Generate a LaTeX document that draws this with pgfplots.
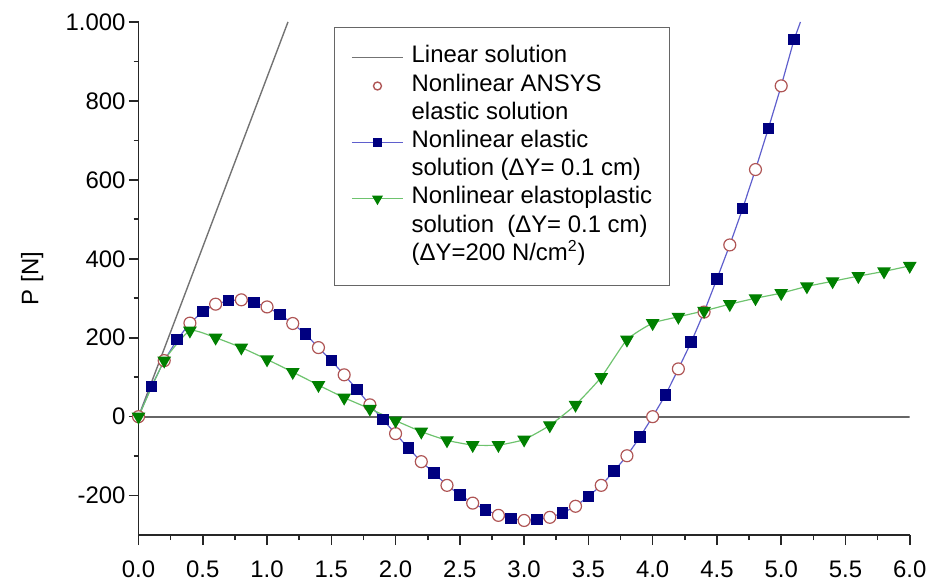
\documentclass[border=0pt]{standalone}
\usepackage{fontspec}
\setmainfont{Liberation Sans}
\usepackage{pgfplots}
\pgfplotsset{compat=1.18}

\definecolor{navy}{RGB}{0,0,128}
\definecolor{bline}{RGB}{95,95,205}
\definecolor{gmark}{RGB}{0,128,0}
\definecolor{gline}{RGB}{110,195,110}
\definecolor{cedge}{RGB}{175,85,85}
\definecolor{lingray}{RGB}{115,115,115}

% Nonlinear elastic solution, step 0.1
\pgfplotstableread{
x y
0.0 0
0.1 76
0.2 142
0.3 195
0.4 237
0.5 266
0.6 285
0.7 294
0.8 296
0.9 289
1.0 278
1.1 259
1.2 236
1.3 209
1.4 175
1.5 142
1.6 106
1.7 69
1.8 30
1.9 -7
2.0 -43
2.1 -80
2.2 -114
2.3 -143
2.4 -174
2.5 -198
2.6 -219
2.7 -236
2.8 -250
2.9 -258
3.0 -263
3.1 -261
3.2 -255
3.3 -244
3.4 -227
3.5 -202
3.6 -174
3.7 -138
3.8 -99
3.9 -52
4.0 0
4.1 55
4.2 121
4.3 189
4.4 265
4.5 349
4.6 435
4.7 527
4.8 626
4.9 730
5.0 838
5.1 955
5.15 1000
}\elastic

% ANSYS points, step 0.2
\pgfplotstableread{
x y
0.0 0
0.2 142
0.4 237
0.6 285
0.8 296
1.0 278
1.2 236
1.4 175
1.6 106
1.8 30
2.0 -43
2.2 -114
2.4 -174
2.6 -219
2.8 -250
3.0 -263
3.2 -255
3.4 -227
3.6 -174
3.8 -99
4.0 0
4.2 121
4.4 265
4.6 435
4.8 626
5.0 838
}\ansys

% elastoplastic solution
\pgfplotstableread{
x y
0.0 0
0.2 142
0.4 218
0.6 200
0.8 175
1.0 145
1.2 113
1.4 80
1.6 48
1.8 20
2.0 -10
2.2 -38
2.4 -60
2.6 -72
2.8 -72
3.0 -58
3.2 -22
3.4 30
3.6 100
3.8 195
4.0 237
4.2 253
4.4 268
4.6 285
4.8 300
5.0 313
5.2 330
5.4 343
5.6 356
5.8 368
6.0 382
}\plastic

\begin{document}
\begin{tikzpicture}
\begin{axis}[
    scale only axis,
    width=387pt, height=257.5pt,
    xmin=0, xmax=6, ymin=-300, ymax=1000,
    axis lines*=left,
    axis line style={line width=1pt, black!85},
    tick align=outside,
    major tick length=5pt, minor tick length=2.5pt,
    every tick/.style={line width=0.8pt, black!85},
    xtick={0,0.5,1,1.5,2,2.5,3,3.5,4,4.5,5,5.5,6},
    minor x tick num=1,
    ytick={-200,0,200,400,600,800,1000},
    minor y tick num=1,
    tick label style={font=\fontsize{12}{14}\selectfont},
    /pgf/number format/assume math mode=true,
    xticklabel style={yshift=-4.5pt, /pgf/number format/.cd, fixed, fixed zerofill, precision=1},
    yticklabel style={xshift=2pt, /pgf/number format/.cd, fixed, 1000 sep={.}},
    ylabel={P [N]},
    ylabel style={at={(axis description cs:-0.138,0.5)}, anchor=center,
        font=\fontsize{12}{14}\selectfont},
    legend image code/.code={\draw[mark repeat=2,mark phase=2,#1]
        plot coordinates {(0cm,0cm) (0.45cm,0cm) (0.9cm,0cm)};},
    legend style={at={(axis description cs:0.253,0.99)}, anchor=north west,
        draw=black!60, line width=0.7pt, inner xsep=8.5pt, inner ysep=8pt,
        font=\fontsize{12}{14}\selectfont, row sep=0pt,
        nodes={inner xsep=0pt, inner ysep=0pt, text height=9.6pt, text depth=4.55pt},
        /tikz/every odd column/.style={column sep=4pt}},
    legend cell align=left,
]

% legend
\addlegendimage{lingray, line width=0.7pt}
\addlegendentry{Linear solution}
\addlegendimage{only marks, mark=o, mark size=2pt, mark options={draw=cedge, fill=white}}
\addlegendentry{Nonlinear ANSYS}
\addlegendimage{empty legend}
\addlegendentry{elastic solution}
\addlegendimage{bline, line width=0.6pt, mark=square*, mark size=2pt, mark options={draw=navy, fill=navy}}
\addlegendentry{Nonlinear elastic}
\addlegendimage{empty legend}
\addlegendentry{solution (ΔY= 0.1 cm)}
\addlegendimage{gline, line width=0.6pt, mark=triangle*, mark size=2.6pt, mark options={draw=gmark, fill=gmark, rotate=180}}
\addlegendentry{Nonlinear elastoplastic}
\addlegendimage{empty legend}
\addlegendentry{solution\ \ (ΔY= 0.1 cm)}
\addlegendimage{empty legend}
\addlegendentry{(ΔY=200 N/cm\textsuperscript{2})}

% zero line
\addplot[forget plot, black!60, line width=1.1pt] coordinates {(0,0) (6,0)};

% linear solution
\addplot[forget plot, lingray, line width=0.7pt] coordinates {(0,0) (1.163,1000)};

% nonlinear elastic
\addplot[forget plot, bline, line width=0.6pt, mark=square*, mark size=2.6pt,
    mark repeat=2, mark phase=2, mark options={draw=navy, fill=navy}]
    table {\elastic};

% ANSYS
\addplot[forget plot, only marks, mark=*, mark size=3pt,
    mark options={draw=cedge, fill=white, line width=0.6pt}]
    table {\ansys};

% elastoplastic
\addplot[forget plot, gline, line width=0.6pt, smooth, tension=0.3,
    mark=triangle*, mark size=3.4pt,
    mark options={draw=gmark, fill=gmark, rotate=180}]
    table {\plastic};

\end{axis}
\path (-69.5pt,-23pt) rectangle (397pt,268.5pt);
\end{tikzpicture}
\end{document}
